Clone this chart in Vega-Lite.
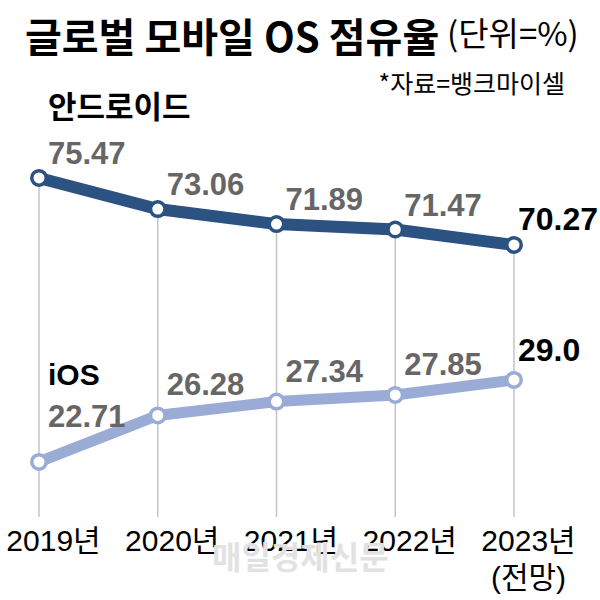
{
  "$schema": "https://vega.github.io/schema/vega-lite/v6.json",
  "width": 475,
  "height": 417,
  "autosize": {"type": "none"},
  "padding": {"left": 39, "top": 100, "right": 86, "bottom": 83},
  "background": "white",
  "config": {"view": {"stroke": null}},
  "title": {
    "text": "글로벌 모바일 OS 점유율",
    "anchor": "start",
    "frame": "group",
    "dx": -14,
    "offset": -40,
    "baseline": "top",
    "font": "Noto Sans CJK KR",
    "fontSize": 40,
    "fontWeight": "bold",
    "color": "#000000"
  },
  "data": {
    "values": [
      {"year": 2019, "os": "안드로이드", "share": 75.47},
      {"year": 2020, "os": "안드로이드", "share": 73.06},
      {"year": 2021, "os": "안드로이드", "share": 71.89},
      {"year": 2022, "os": "안드로이드", "share": 71.47},
      {"year": 2023, "os": "안드로이드", "share": 70.27},
      {"year": 2019, "os": "iOS", "share": 22.71},
      {"year": 2020, "os": "iOS", "share": 26.28},
      {"year": 2021, "os": "iOS", "share": 27.34},
      {"year": 2022, "os": "iOS", "share": 27.85},
      {"year": 2023, "os": "iOS", "share": 29.0}
    ]
  },
  "encoding": {
    "x": {
      "field": "year",
      "type": "quantitative",
      "title": null,
      "scale": {"domain": [2019, 2023], "nice": false, "zero": false},
      "axis": {
        "values": [2019, 2020, 2021, 2022, 2023],
        "labelExpr": "datum.value == 2023 ? ['2023년', '(전망)'] : datum.value + '년'",
        "domain": false,
        "ticks": false,
        "grid": false,
        "labelPadding": 9,
        "labelOffset": 14,
        "labelFont": "Liberation Sans, Noto Sans CJK KR",
        "labelFontSize": 30,
        "labelColor": "#000000",
        "labelLineHeight": 37,
        "labelFlush": false,
        "labelOverlap": false,
        "title": null
      }
    }
  },
  "layer": [
    {
      "encoding": {
        "y": {
          "field": "share",
          "type": "quantitative",
          "scale": {"domain": [49.16, 81.52], "nice": false, "zero": false},
          "axis": null
        }
      },
      "layer": [
        {
          "transform": [{"filter": "datum.os === '안드로이드'"}],
          "mark": {"type": "rule", "color": "#c4c4c4", "strokeWidth": 1.5},
          "encoding": {"y2": {"datum": 49.16}}
        },
        {
          "transform": [{"filter": "datum.os === '안드로이드'"}],
          "mark": {"type": "line", "color": "#2c5282", "strokeWidth": 12}
        },
        {
          "transform": [{"filter": "datum.os === '안드로이드'"}],
          "mark": {"type": "point", "shape": "circle", "filled": true, "fill": "white", "stroke": "#2c5282", "strokeWidth": 3.5, "size": 210, "opacity": 1}
        },
        {
          "transform": [{"filter": "datum.os === '안드로이드' && datum.year < 2023"}],
          "mark": {"type": "text", "align": "left", "baseline": "alphabetic", "dx": 9, "dy": -14, "font": "Liberation Sans", "fontSize": 31, "fontWeight": "bold", "color": "#666666"},
          "encoding": {"text": {"field": "share", "type": "quantitative", "format": ".2f"}}
        },
        {
          "transform": [{"filter": "datum.os === '안드로이드' && datum.year == 2023"}],
          "mark": {"type": "text", "align": "left", "baseline": "alphabetic", "dx": 4, "dy": -15, "font": "Liberation Sans", "fontSize": 32, "fontWeight": "bold", "color": "#000000"},
          "encoding": {"text": {"field": "share", "type": "quantitative", "format": ".2f"}}
        },
        {
          "transform": [{"filter": "datum.os === '안드로이드' && datum.year == 2019"}],
          "mark": {"type": "text", "align": "left", "baseline": "middle", "dx": 9, "font": "Noto Sans CJK KR", "fontSize": 31, "fontWeight": "bold", "color": "#000000"},
          "encoding": {"y": {"datum": 80.86}, "text": {"field": "os", "type": "nominal"}}
        },
        {
          "transform": [{"filter": "datum.os === '안드로이드' && datum.year == 2019"}],
          "mark": {"type": "text", "align": "left", "baseline": "top", "font": "Noto Sans CJK KR", "fontSize": 33, "fontWeight": "normal", "color": "#000000"},
          "encoding": {"x": {"datum": 2022.436}, "y": {"datum": 87.73}, "text": {"value": "(단위=%)"}}
        },
        {
          "transform": [{"filter": "datum.os === '안드로이드' && datum.year == 2019"}],
          "mark": {"type": "text", "align": "right", "baseline": "top", "font": "Noto Sans CJK KR", "fontSize": 25, "fontWeight": "normal", "color": "#000000"},
          "encoding": {"x": {"datum": 2023.43}, "y": {"datum": 83.62}, "text": {"value": "*자료=뱅크마이셀"}}
        },
        {
          "transform": [{"filter": "datum.os === '안드로이드' && datum.year == 2019"}],
          "mark": {"type": "text", "align": "center", "baseline": "middle", "font": "Noto Sans CJK KR", "fontSize": 32, "fontWeight": "bold", "color": "#e2e2e2"},
          "encoding": {"x": {"datum": 2021.2}, "y": {"datum": 45.9}, "text": {"value": "매일경제신문"}}
        }
      ]
    },
    {
      "encoding": {
        "y": {
          "field": "share",
          "type": "quantitative",
          "scale": {"domain": [18.49, 50.47], "nice": false, "zero": false},
          "axis": null
        }
      },
      "layer": [
        {
          "transform": [{"filter": "datum.os === 'iOS'"}],
          "mark": {"type": "line", "color": "#9aacd6", "strokeWidth": 11}
        },
        {
          "transform": [{"filter": "datum.os === 'iOS'"}],
          "mark": {"type": "point", "shape": "circle", "filled": true, "fill": "white", "stroke": "#9aacd6", "strokeWidth": 3.5, "size": 210, "opacity": 1}
        },
        {
          "transform": [{"filter": "datum.os === 'iOS' && datum.year > 2019 && datum.year < 2023"}],
          "mark": {"type": "text", "align": "left", "baseline": "alphabetic", "dx": 9, "dy": -20, "font": "Liberation Sans", "fontSize": 31, "fontWeight": "bold", "color": "#666666"},
          "encoding": {"text": {"field": "share", "type": "quantitative", "format": ".2f"}}
        },
        {
          "transform": [{"filter": "datum.os === 'iOS' && datum.year == 2019"}],
          "mark": {"type": "text", "align": "left", "baseline": "alphabetic", "dx": 9, "dy": -35, "font": "Liberation Sans", "fontSize": 31, "fontWeight": "bold", "color": "#666666"},
          "encoding": {"text": {"field": "share", "type": "quantitative", "format": ".2f"}}
        },
        {
          "transform": [{"filter": "datum.os === 'iOS' && datum.year == 2023"}],
          "mark": {"type": "text", "align": "left", "baseline": "alphabetic", "dx": 4, "dy": -19, "font": "Liberation Sans", "fontSize": 32, "fontWeight": "bold", "color": "#000000"},
          "encoding": {"text": {"field": "share", "type": "quantitative", "format": ".1f"}}
        },
        {
          "transform": [{"filter": "datum.os === 'iOS' && datum.year == 2019"}],
          "mark": {"type": "text", "align": "left", "baseline": "alphabetic", "dx": 9, "font": "Liberation Sans", "fontSize": 30, "fontWeight": "bold", "color": "#000000"},
          "encoding": {"y": {"datum": 28.61}, "text": {"field": "os", "type": "nominal"}}
        }
      ]
    }
  ],
  "resolve": {"scale": {"y": "independent"}}
}
